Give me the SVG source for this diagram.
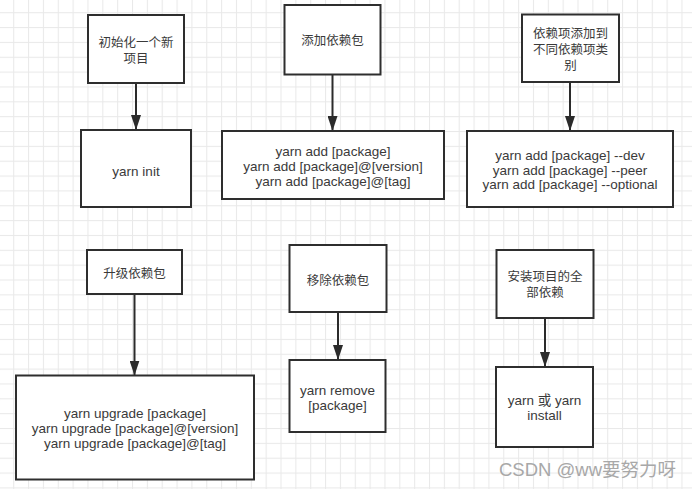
<svg xmlns="http://www.w3.org/2000/svg" width="692" height="489" viewBox="0 0 692 489">
<defs>
<pattern id="grid" patternUnits="userSpaceOnUse" x="13.2" y="12.2" width="14.85" height="14.85">
<rect x="0" y="0" width="14.85" height="14.85" fill="#ffffff"/>
<rect x="0" y="0" width="1" height="14.85" fill="#e9e9e9"/>
<rect x="0" y="0" width="14.85" height="1" fill="#e9e9e9"/>
</pattern>
<marker id="arrow" viewBox="0 0 15 10" refX="15" refY="5" markerWidth="15" markerHeight="10" markerUnits="userSpaceOnUse" orient="auto">
<path d="M0,0 L15,5 L0,10 z" fill="#2b2b2b"/>
</marker>
</defs>
<style>
.box{fill:#ffffff;stroke:#2e2e2e;stroke-width:2}
.t{font-family:"Liberation Sans","Noto Sans CJK SC",sans-serif;font-size:13.5px;fill:#3a3a3a;text-anchor:middle}
.c{font-family:"Liberation Sans","Noto Sans CJK SC",sans-serif;font-size:12.5px;fill:#3a3a3a;text-anchor:middle}
.edge{stroke:#2b2b2b;stroke-width:2;fill:none;marker-end:url(#arrow)}
.wm{font-family:"Liberation Sans","Noto Sans CJK SC",sans-serif;font-size:18.5px;fill:#a8a8a8}
</style>
<rect x="0" y="0" width="692" height="489" fill="url(#grid)"/>

<g id="connectors">
<line class="edge" x1="136" y1="83" x2="136" y2="130"/>
<line class="edge" x1="332.5" y1="74.5" x2="332.5" y2="131"/>
<line class="edge" x1="570" y1="82" x2="570" y2="131"/>
<line class="edge" x1="134.5" y1="294" x2="134.5" y2="375.5"/>
<line class="edge" x1="338" y1="312" x2="338" y2="360"/>
<line class="edge" x1="545" y1="318" x2="545" y2="367"/>
</g>

<g id="n-init-label">
<rect class="box" x="88" y="15" width="96" height="68"/>
<text class="c" x="136" y="47">初始化一个新</text>
<text class="c" x="136" y="62.5">项目</text>
</g>
<g id="n-init-cmd">
<rect class="box" x="81" y="130" width="110" height="77"/>
<text class="t" x="136" y="175.5">yarn init</text>
</g>

<g id="n-add-label">
<rect class="box" x="284.5" y="5" width="96" height="69.5"/>
<text class="c" x="332.5" y="45">添加依赖包</text>
</g>
<g id="n-add-cmd">
<rect class="box" x="222" y="131" width="222" height="68"/>
<text class="t" x="333" y="155.5">yarn add [package]</text>
<text class="t" x="333" y="170.5">yarn add [package]@[version]</text>
<text class="t" x="333" y="185.5">yarn add [package]@[tag]</text>
</g>

<g id="n-cat-label">
<rect class="box" x="522" y="14.5" width="97" height="67.5"/>
<text class="c" x="570.5" y="38">依赖项添加到</text>
<text class="c" x="570.5" y="54">不同依赖项类</text>
<text class="c" x="570.5" y="69.5">别</text>
</g>
<g id="n-cat-cmd">
<rect class="box" x="467" y="131" width="206" height="76"/>
<text class="t" x="570" y="160">yarn add [package] --dev</text>
<text class="t" x="570" y="174.5">yarn add [package] --peer</text>
<text class="t" x="570" y="189">yarn add [package] --optional</text>
</g>

<g id="n-upgrade-label">
<rect class="box" x="87" y="250" width="95" height="44"/>
<text class="c" x="134.5" y="277.5">升级依赖包</text>
</g>
<g id="n-upgrade-cmd">
<rect class="box" x="16" y="375.5" width="238" height="104"/>
<text class="t" x="135" y="418">yarn upgrade [package]</text>
<text class="t" x="135" y="433">yarn upgrade [package]@[version]</text>
<text class="t" x="135" y="448">yarn upgrade [package]@[tag]</text>
</g>

<g id="n-remove-label">
<rect class="box" x="289.5" y="245" width="97" height="67"/>
<text class="c" x="338" y="285">移除依赖包</text>
</g>
<g id="n-remove-cmd">
<rect class="box" x="289.5" y="360" width="96" height="72"/>
<text class="t" x="337.5" y="394.5">yarn remove</text>
<text class="t" x="337.5" y="409.5">[package]</text>
</g>

<g id="n-install-label">
<rect class="box" x="496.5" y="250" width="97" height="68"/>
<text class="c" x="545" y="280.5">安装项目的全</text>
<text class="c" x="545" y="296.5">部依赖</text>
</g>
<g id="n-install-cmd">
<rect class="box" x="496" y="367" width="97" height="80"/>
<text class="t" x="544.5" y="405">yarn 或 yarn</text>
<text class="t" x="544.5" y="420">install</text>
</g>

<text class="wm" x="499" y="476">CSDN @ww要努力呀</text>
</svg>
